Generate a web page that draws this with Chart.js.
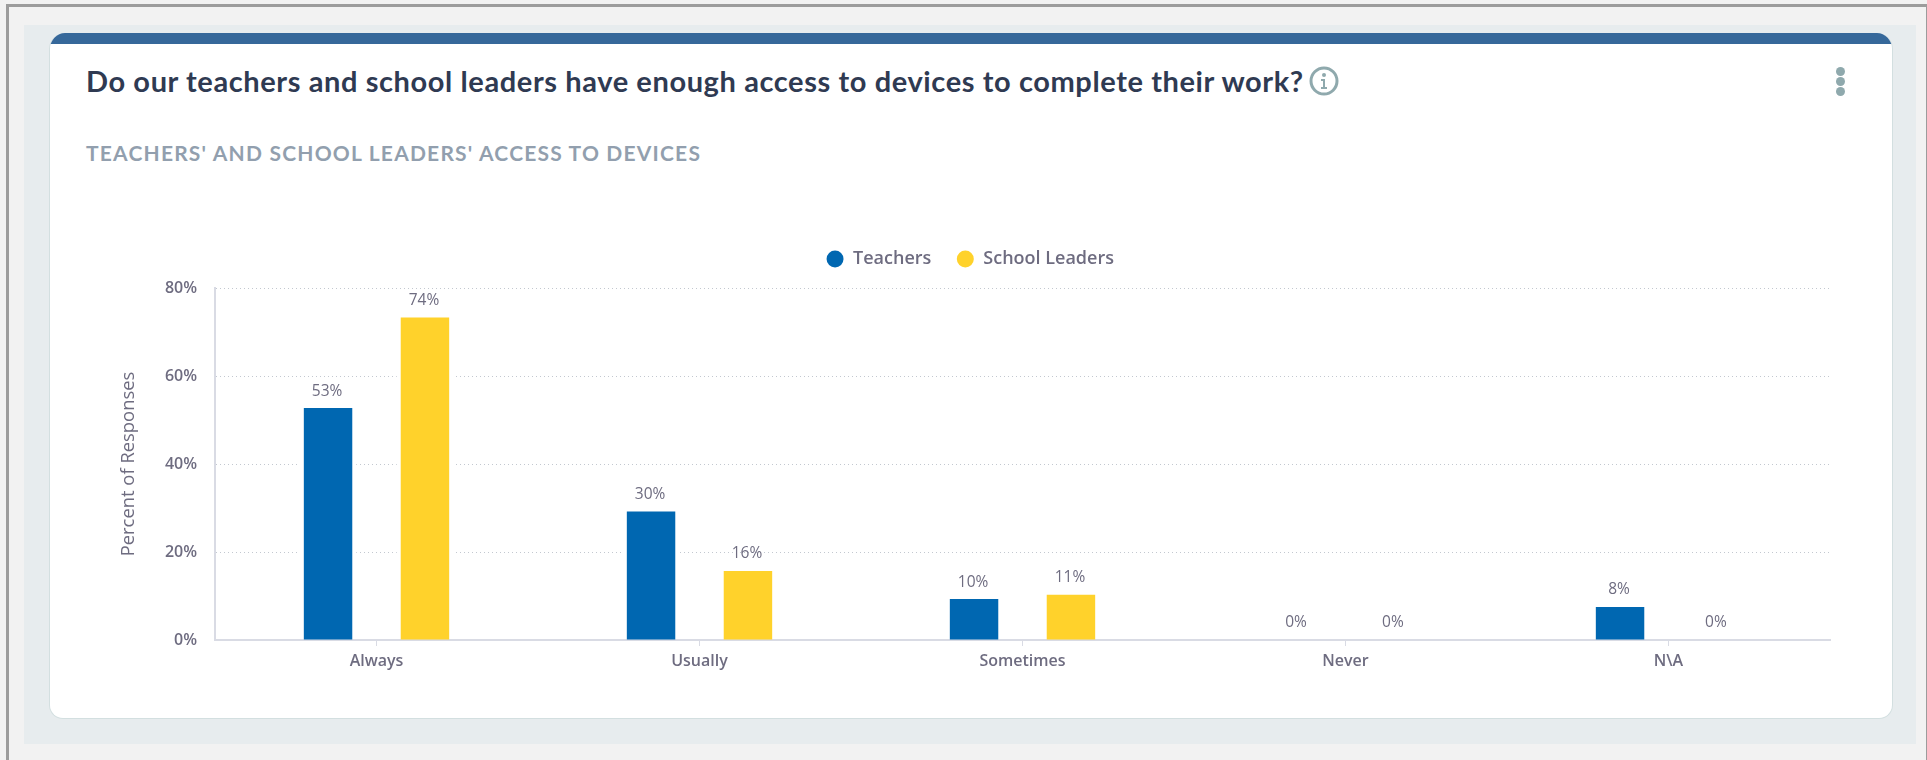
<!DOCTYPE html>
<html>
<head>
<meta charset="utf-8">
<title>Access to devices</title>
<script src="https://cdn.jsdelivr.net/npm/chart.js@4"></script>
<style>
  html, body { margin: 0; width: 1927px; height: 760px; overflow: hidden; background: #f2f2f2; }
  #frame { position: absolute; left: 6px; top: 4px; width: 1917px; height: 756px; border: solid #9c9c9c; border-width: 3px 2px 0 3px; }
  #band { position: absolute; left: 24px; top: 25px; width: 1892px; height: 719px; background: #e7ecee; }
  #card { position: absolute; left: 49px; top: 33px; width: 1844px; height: 686px; box-sizing: border-box; background: #fff;
          border: 1px solid #d3dfe0; border-top: 0; border-radius: 16px 16px 14px 14px; overflow: hidden; }
  #cardTop { height: 11px; margin: 0 -1px; background: #36689a; }
  #title { position: absolute; left: 86px; top: 61px; font: 700 29px/40px Lato, sans-serif; letter-spacing: 0.6px; color: #2f3a52; white-space: nowrap; }
  #subtitle { position: absolute; left: 86px; top: 140px; font: 700 21px/26px Lato, sans-serif; letter-spacing: 1.2px; color: #929fae; white-space: nowrap; }
  #info { position: absolute; left: 1309px; top: 66px; }
  .dot { position: absolute; left: 1836px; width: 9px; height: 9px; border-radius: 50%; background: #8fa9ad; }
  #chartBox { position: absolute; left: 49px; top: 220px; width: 1844px; height: 490px; }
</style>
</head>
<body>
<div id="frame"></div>
<div id="band"></div>
<div id="card"><div id="cardTop"></div></div>
<div id="title">Do our teachers and school leaders have enough access to devices to complete their work?</div>
<svg id="info" width="30" height="30" viewBox="0 0 30 30">
  <circle cx="15" cy="15" r="13" fill="none" stroke="#8fa9ad" stroke-width="3"/>
  <circle cx="15" cy="9" r="2" fill="#8fa9ad"/>
  <path d="M12 13h4v8h2v2h-6v-2h2v-6h-2z" fill="#8fa9ad"/>
</svg>
<div class="dot" style="top:67px"></div>
<div class="dot" style="top:77px"></div>
<div class="dot" style="top:87px"></div>
<div id="subtitle">TEACHERS' AND SCHOOL LEADERS' ACCESS TO DEVICES</div>
<div id="chartBox"><canvas id="accessChart"></canvas></div>
<script>
  const categories = ["Always", "Usually", "Sometimes", "Never", "N\\A"];
  const teacherValues = [52.7, 29.2, 9.3, 0, 7.5];
  const leaderValues = [73.3, 15.7, 10.3, 0, 0];
  const teacherLabels = ["53%", "30%", "10%", "0%", "8%"];
  const leaderLabels = ["74%", "16%", "11%", "0%", "0%"];

  const BLUE = "#0067b1";
  const YELLOW = "#ffd22b";
  const TEXT = "#6e6c80";
  const AXIS = "#d9dbe4";

  // more room between the legend and the plot, without widening the legend
  const legendGap = {
    id: "legendGap",
    beforeInit(chart) {
      const fit = chart.legend.fit;
      chart.legend.fit = function () {
        fit.call(this);
        this.height += 10;
      };
    },
  };

  // white gap the gridlines leave round each bar
  const barHalo = {
    id: "barHalo",
    beforeDatasetsDraw(chart) {
      const ctx = chart.ctx;
      ctx.save();
      ctx.fillStyle = "#fff";
      chart.data.datasets.forEach((dataset, i) => {
        chart.getDatasetMeta(i).data.forEach((bar) => {
          if (bar.base - bar.y < 1) return;
          ctx.fillRect(bar.x - bar.width / 2 - 4, bar.y - 4, bar.width + 8, bar.base - bar.y + 3);
        });
      });
      ctx.restore();
    },
  };

  const barLabels = {
    id: "barLabels",
    afterDatasetsDraw(chart) {
      const ctx = chart.ctx;
      ctx.save();
      ctx.font = "400 15.5px 'Open Sans'";
      ctx.fillStyle = TEXT;
      ctx.textAlign = "center";
      ctx.textBaseline = "middle";
      chart.data.datasets.forEach((dataset, i) => {
        chart.getDatasetMeta(i).data.forEach((bar, j) => {
          ctx.fillText(dataset.valueLabels[j], bar.x - 1, bar.y - 17);
        });
      });
      ctx.restore();
    },
  };

  new Chart(document.getElementById("accessChart"), {
    type: "bar",
    data: {
      labels: categories,
      datasets: [
        { label: "Teachers", data: teacherValues, valueLabels: teacherLabels, backgroundColor: BLUE },
        { label: "School Leaders", data: leaderValues, valueLabels: leaderLabels, backgroundColor: YELLOW },
      ],
    },
    options: {
      responsive: true,
      maintainAspectRatio: false,
      animation: false,
      categoryPercentage: 0.6,
      barPercentage: 0.5,
      layout: { padding: { top: 5, right: 63, bottom: 0, left: 61 } },
      plugins: {
        tooltip: { enabled: false },
        legend: {
          position: "top",
          labels: {
            usePointStyle: true,
            pointStyle: "circle",
            boxHeight: 12,
            padding: 25,
            color: TEXT,
            font: { family: "'Open Sans'", size: 18, weight: "600" },
          },
        },
      },
      scales: {
        x: {
          afterFit(scale) { scale.height = 70; },
          grid: { offset: false, drawOnChartArea: false, drawTicks: true, tickLength: 6, color: AXIS },
          border: { color: AXIS, width: 2 },
          ticks: { color: TEXT, padding: 6, font: { family: "'Open Sans'", size: 16, weight: "600" } },
        },
        y: {
          min: 0,
          max: 80,
          afterFit(scale) { scale.width = 105; },
          grid: { color: "#c3c8d0", drawTicks: false },
          border: { color: AXIS, width: 2, dash: [1, 3] },
          title: {
            display: true,
            text: "Percent of Responses",
            color: TEXT,
            padding: { top: 8, bottom: 0 },
            font: { family: "'Open Sans'", size: 18.4, weight: "400" },
          },
          ticks: {
            stepSize: 20,
            color: TEXT,
            padding: 18,
            font: { family: "'Open Sans'", size: 16, weight: "600" },
            callback: (value) => value + "%",
          },
        },
      },
    },
    plugins: [legendGap, barHalo, barLabels],
  });
</script>
</body>
</html>
